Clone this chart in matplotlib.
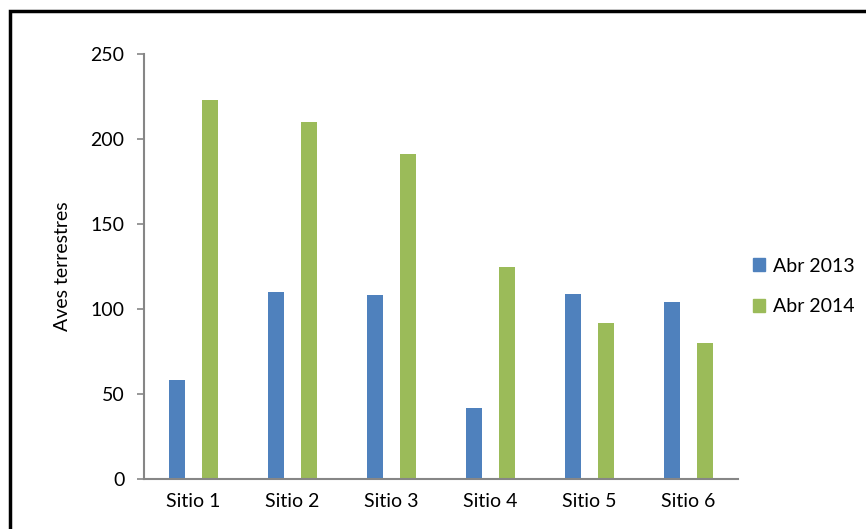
import matplotlib
matplotlib.use("Agg")
import matplotlib.pyplot as plt
import matplotlib.patches as mpatches
import numpy as np

categories = ["Sitio 1", "Sitio 2", "Sitio 3", "Sitio 4", "Sitio 5", "Sitio 6"]
abr_2013 = [58, 110, 108, 42, 109, 104]
hidden_series = [0.7, 0, 0, 0, 0, 0]
abr_2014 = [223, 210, 191, 125, 92, 80]
yticks = [0, 50, 100, 150, 200, 250]

plt.rcParams['font.family'] = ['Lato', 'DejaVu Sans']
FS = 14

W, H = 866, 529
fig = plt.figure(figsize=(W / 100, H / 100), dpi=100)
ax = fig.add_axes([144 / W, 1 - 479 / H, (738 - 144) / W, (479 - 54) / H])

x = np.arange(len(categories))
w = 1 / 6
blue, red, green = "#4F81BD", "#C0504D", "#9BBB59"
ax.bar(x - w, abr_2013, w, color=blue, label="Abr 2013")
ax.bar(x, hidden_series, w, color=red)
ax.bar(x + w, abr_2014, w, color=green, label="Abr 2014")

ax.set_xlim(-0.5, len(categories) - 0.5)
ax.set_ylim(0, 250)
ax.set_yticks(yticks)
ax.set_xticks(x)
ax.set_xticklabels(categories, fontsize=FS)
ax.tick_params(axis='y', labelsize=FS, length=5, width=1.2, color="#868686", pad=9)
ax.tick_params(axis='x', length=0, pad=10)
for s in ["top", "right"]:
    ax.spines[s].set_visible(False)
for s in ["left", "bottom"]:
    ax.spines[s].set_color("#868686")
    ax.spines[s].set_linewidth(1.5)
ax.set_ylabel("Aves terrestres", fontsize=FS, labelpad=14)

handles = [mpatches.Patch(color=blue), mpatches.Patch(color=green)]
fig.legend(handles, ["Abr 2013", "Abr 2014"], loc="upper left",
           bbox_to_anchor=(745 / W, 1 - 250 / H), frameon=False, fontsize=FS,
           borderaxespad=0, handlelength=0.65, handleheight=0.65,
           handletextpad=0.4, labelspacing=1.2)

frame = mpatches.Rectangle((10 / W, -0.2), 1.3, 1 - 11 / H + 0.2,
                           transform=fig.transFigure, fill=False,
                           edgecolor="black", linewidth=2.5, clip_on=False)
fig.patches.append(frame)

fig.savefig("out.png", dpi=100)
